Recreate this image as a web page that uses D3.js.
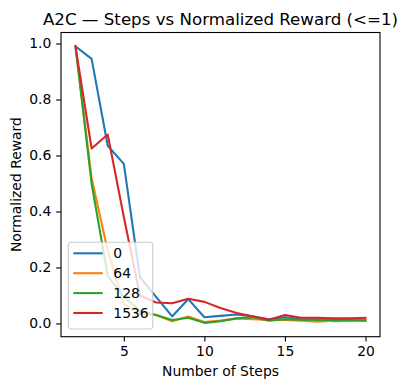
<!DOCTYPE html>
<html>
<head>
<meta charset="utf-8">
<script src="https://cdn.jsdelivr.net/npm/d3@7"></script>
<style>
    body { margin: 0; background: white; }
    svg { font-family: 'DejaVu Sans', sans-serif; }
</style>
</head>
<body>
<svg id="chart" width="407" height="390"></svg>
<script>
// Values
const steps = [2, 3, 4, 5, 6, 7, 8, 9, 10, 11, 12, 13, 14, 15, 16, 17, 18, 19, 20];
const series_names = ['0', '64', '128', '1536'];
const reward_0 = [0.99, 0.945, 0.635, 0.57, 0.165, 0.095, 0.025, 0.087, 0.022, 0.027, 0.032, 0.025, 0.015, 0.022, 0.016, 0.015, 0.008, 0.01, 0.013];
const reward_64 = [0.99, 0.52, 0.26, 0.07, 0.035, 0.03, 0.008, 0.025, 0.005, 0.01, 0.018, 0.015, 0.012, 0.012, 0.01, 0.006, 0.01, 0.01, 0.01];
const reward_128 = [0.99, 0.5, 0.17, 0.095, 0.045, 0.03, 0.012, 0.02, 0.002, 0.008, 0.018, 0.022, 0.01, 0.015, 0.013, 0.012, 0.012, 0.012, 0.01];
const reward_1536 = [0.99, 0.625, 0.675, 0.38, 0.1, 0.075, 0.072, 0.088, 0.077, 0.055, 0.037, 0.026, 0.013, 0.03, 0.02, 0.02, 0.018, 0.018, 0.02];
const x_ticks = [5, 10, 15, 20];
const y_ticks = [0, 0.2, 0.4, 0.6, 0.8, 1.0];

const colors = ['#1f77b4', '#ff7f0e', '#2ca02c', '#d62728'];
const all_rewards = [reward_0, reward_64, reward_128, reward_1536];

const svg = d3.select('#chart');

// Axes box, matplotlib-like
const box_left = 61, box_right = 380, box_top = 32.5, box_bottom = 336.7;
const tick_len = 4.86;

// Pad domains by 5% like matplotlib autoscale
function padded(extent) {
    const pad = (extent[1] - extent[0]) * 0.05;
    return [extent[0] - pad, extent[1] + pad];
}

let x = d3.scaleLinear()
    .domain(padded(d3.extent(steps)))
    .range([box_left, box_right]);

let y = d3.scaleLinear()
    .domain(padded(d3.extent(d3.merge(all_rewards))))
    .range([box_bottom, box_top]);

// Draw the lines
const line = d3.line()
    .x((d, i) => x(steps[i]))
    .y(d => y(d));

const line_group = svg.append('g');

line_group.selectAll('path')
    .data(all_rewards)
    .enter()
    .append('path')
    .attr('d', d => line(d))
    .style('fill', 'none')
    .style('stroke', (d, i) => colors[i])
    .style('stroke-width', 2.08)
    .style('stroke-linejoin', 'round')
    .style('stroke-linecap', 'square');

// Axes
const x_axis = svg.append('g')
    .attr('transform', `translate(0, ${box_bottom})`)
    .call(d3.axisBottom(x).tickValues(x_ticks).tickSize(tick_len).tickPadding(4.86).tickFormat(d3.format('d')));

const y_axis = svg.append('g')
    .attr('transform', `translate(${box_left}, 0)`)
    .call(d3.axisLeft(y).tickValues(y_ticks).tickSize(tick_len).tickPadding(4.86).tickFormat(d3.format('.1f')));

[x_axis, y_axis].forEach(axis => {
    axis.select('.domain').remove();
    axis.selectAll('.tick line').style('stroke', 'black').style('stroke-width', 1.1);
    axis.selectAll('.tick text')
        .style('font-family', 'DejaVu Sans')
        .style('font-size', '13.9px')
        .style('fill', 'black');
});

// Frame
svg.append('rect')
    .attr('x', box_left)
    .attr('y', box_top)
    .attr('width', box_right - box_left)
    .attr('height', box_bottom - box_top)
    .style('fill', 'none')
    .style('stroke', 'black')
    .style('stroke-width', 1.1);

// Title and labels
svg.append('text')
    .attr('x', (box_left + box_right) / 2)
    .attr('y', 24.5)
    .attr('text-anchor', 'middle')
    .style('font-size', '16.67px')
    .text('A2C — Steps vs Normalized Reward (<=1)');

svg.append('text')
    .attr('x', (box_left + box_right) / 2)
    .attr('y', 376)
    .attr('text-anchor', 'middle')
    .style('font-size', '13.9px')
    .text('Number of Steps');

svg.append('text')
    .attr('transform', `translate(${20.5}, ${(box_top + box_bottom) / 2}) rotate(-90)`)
    .attr('text-anchor', 'middle')
    .style('font-size', '13.9px')
    .text('Normalized Reward');

// Legend, lower left
const legend = svg.append('g')
    .attr('transform', `translate(${68.3}, ${242.3})`);

legend.append('rect')
    .attr('width', 84.4)
    .attr('height', 86.7)
    .attr('rx', 2.8)
    .style('fill', 'white')
    .style('fill-opacity', 0.8)
    .style('stroke', '#cccccc')
    .style('stroke-width', 1.1);

const entries = legend.selectAll('g.entry')
    .data(series_names)
    .enter()
    .append('g')
    .attr('class', 'entry')
    .attr('transform', (d, i) => `translate(0, ${11 + i * 19.9})`);

entries.append('line')
    .attr('x1', 5)
    .attr('x2', 34.4)
    .style('stroke', (d, i) => colors[i])
    .style('stroke-width', 2.08);

entries.append('text')
    .attr('x', 45)
    .attr('y', 5)
    .style('font-size', '13.9px')
    .text(d => d);
</script>
</body>
</html>
